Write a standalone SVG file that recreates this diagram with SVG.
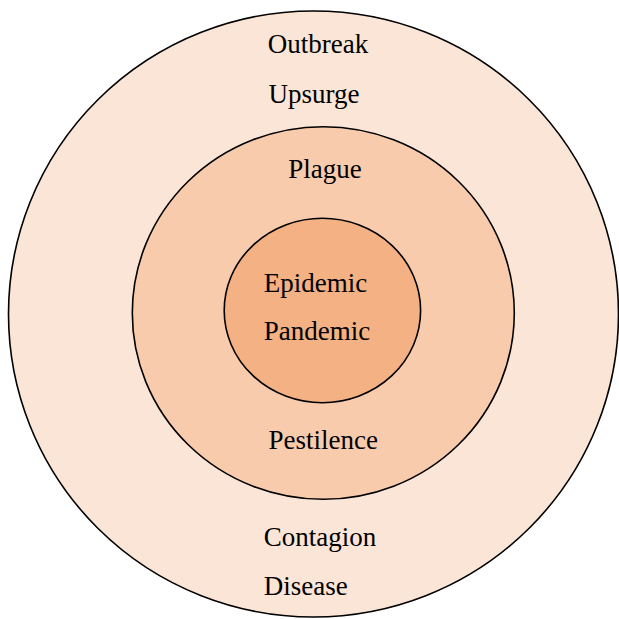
<svg xmlns="http://www.w3.org/2000/svg" width="619" height="619" viewBox="0 0 619 619">
<style>
.ring{stroke:#000;stroke-width:1.6}
.t{font-family:"Liberation Serif","Times New Roman",serif;font-size:27px;fill:#000}
</style>
<rect width="619" height="619" fill="#fff"/>
<g id="outer">
<ellipse class="ring" cx="313.5" cy="314" rx="305" ry="303" fill="#FBE5D6"/>
<text class="t" x="267.7" y="52.5">Outbreak</text>
<text class="t" x="268.5" y="102.6">Upsurge</text>
<text class="t" x="263.7" y="546">Contagion</text>
<text class="t" x="263.7" y="595.3">Disease</text>
</g>
<g id="middle">
<ellipse class="ring" cx="323.3" cy="313" rx="191" ry="186.3" fill="#F8CBAD"/>
<text class="t" x="288.2" y="177.6">Plague</text>
<text class="t" x="268.5" y="448.9">Pestilence</text>
</g>
<g id="inner">
<ellipse class="ring" cx="322.4" cy="310.5" rx="98.2" ry="92.2" fill="#F4B183"/>
<text class="t" x="263.7" y="292">Epidemic</text>
<text class="t" x="263.7" y="340.3">Pandemic</text>
</g>
<g id="connectors"/>
</svg>
